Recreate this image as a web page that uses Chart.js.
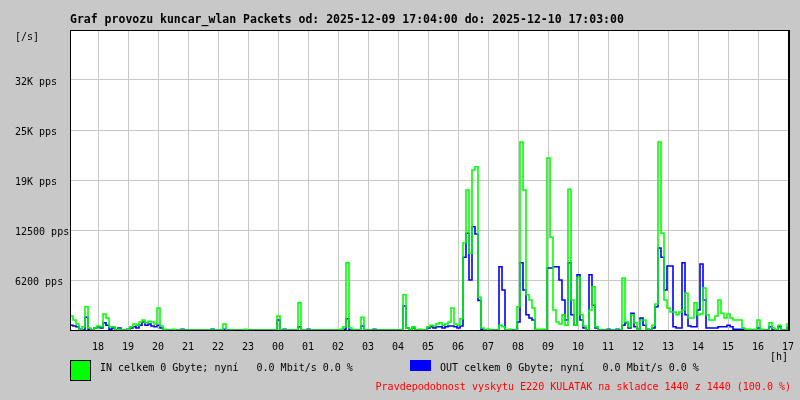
<!DOCTYPE html>
<html>
<head>
<meta charset="utf-8">
<script src="https://cdn.jsdelivr.net/npm/chart.js@4/dist/chart.umd.min.js"></script>
<style>
  html, body { margin: 0; padding: 0; background: #c8c8c8; }
  #wrap { position: relative; width: 800px; height: 400px; overflow: hidden; background: #c8c8c8; }
  canvas { position: absolute; left: 0; top: 0; }
  .t { position: absolute; white-space: pre; font-family: "DejaVu Sans Mono", "Liberation Mono", monospace; font-size: 10px; line-height: 10px; color: #000; }
  #title { font-weight: bold; font-size: 11.5px; line-height: 12px; left: 70px; top: 13px; }
  .box { position: absolute; }
</style>
</head>
<body>
<div id="wrap">
  <canvas id="c" width="800" height="400"></canvas>
  <div id="title" class="t">Graf provozu kuncar_wlan Packets od: 2025-12-09 17:04:00 do: 2025-12-10 17:03:00</div>
  <div class="t" style="left:15px; top:32px;">[/s]</div>
  <div class="t" style="left:770px; top:352px;">[h]</div>
  <div class="box" style="left:70px; top:360px; width:19px; height:19px; background:#00ff00; border:1px solid #000;"></div>
  <div class="t" style="left:100px; top:363px;">IN celkem 0 Gbyte; nyní   0.0 Mbit/s 0.0 %</div>
  <div class="box" style="left:410px; top:360px; width:21px; height:11px; background:#0000ff;"></div>
  <div class="t" style="left:440px; top:363px;">OUT celkem 0 Gbyte; nyní   0.0 Mbit/s 0.0 %</div>
  <div class="t" style="right:9px; top:382px; color:#ff0000;">Pravdepodobnost vyskytu E220 KULATAK na skladce 1440 z 1440 (100.0 %)</div>
</div>
<script>
// Time axis: minutes since 2025-12-09 17:04, one sample every 6 minutes
const sampleMinutes = 6;
const totalMinutes = 1440;
const firstHourOffset = 56; // 18:00 is 56 minutes after 17:04
const hourLabels = ['18','19','20','21','22','23','00','01','02','03','04','05','06','07','08','09','10','11','12','13','14','15','16','17'];
const yTickValues = [0, 6250, 12500, 18750, 25000, 31250, 37500];
const yTickLabels = ['', '6200 pps', '12500 pps', '19K pps', '25K pps', '32K pps', ''];

// IN packets/s (green)
const inValues = [
  1750,1250,750,0,400,2900,250,0,250,500,
  400,2000,1500,400,400,0,100,0,0,100,
  400,750,600,1000,1250,900,1100,1000,750,2750,
  500,100,0,0,100,0,0,0,0,0,
  0,0,0,0,0,0,0,0,0,0,
  0,750,0,0,0,0,0,0,100,0,
  0,0,0,0,0,0,0,0,0,1750,
  0,0,0,0,0,0,3400,0,0,0,
  0,0,0,0,0,0,0,0,0,0,
  100,400,8400,250,0,0,0,1600,0,0,
  0,0,0,0,0,0,0,0,0,0,
  0,4400,250,100,400,0,100,0,0,400,
  600,500,750,900,600,750,1000,2750,750,600,
  1400,10900,17500,9600,20000,20400,4100,250,0,100,
  0,0,0,600,400,0,100,0,0,2900,
  23500,17500,4400,3750,2750,100,100,100,0,21500,
  11600,2500,1000,750,1900,600,17600,3750,600,6600,
  1900,500,0,2500,5400,400,0,0,0,0,
  0,0,0,0,6500,1000,400,1900,900,100,
  1250,1250,100,0,600,3250,23500,12100,3750,2750,
  2250,2250,1900,2250,2500,4600,1500,1500,3400,1900,
  2000,5250,1900,1250,1250,1750,3750,2100,1500,2000,
  1500,1250,1250,1250,250,100,100,0,100,1250,
  100,0,0,900,250,0,600,0,0,750
];

// OUT packets/s (blue)
const outValues = [
  600,500,400,100,0,1600,100,0,250,400,
  250,900,600,100,250,0,250,0,0,100,
  250,400,250,600,1000,600,750,500,400,600,
  250,0,0,0,0,0,0,100,0,0,
  0,0,0,0,0,0,0,100,0,0,
  0,100,0,0,0,0,0,0,0,0,
  0,0,0,0,0,0,0,0,0,1250,
  0,100,0,0,0,0,400,0,0,100,
  0,0,0,0,0,0,0,0,0,0,
  0,100,1400,0,0,0,0,500,0,0,
  0,100,0,0,0,0,0,0,0,0,
  0,3000,250,0,250,0,0,0,0,250,
  400,250,400,400,250,400,500,500,400,250,
  500,9100,12100,6250,12900,12000,3700,100,0,0,
  0,0,0,7900,5000,0,0,0,0,1000,
  8400,5000,1900,1500,1250,0,0,0,0,7750,
  7750,7900,7900,6250,3750,1250,8400,1900,600,6900,
  1250,250,0,6900,3100,250,0,0,0,100,
  0,0,100,0,600,900,250,2100,400,100,
  1500,600,100,0,250,2900,10250,9100,5000,8000,
  8000,400,250,250,8400,1900,500,400,400,2500,
  8250,3750,250,250,250,250,400,400,400,600,
  400,100,100,100,100,0,0,0,0,250,
  0,0,0,400,0,0,400,0,0,250
];

function toPoints(values) {
  const pts = values.map((v, i) => ({ x: i * sampleMinutes, y: v }));
  pts.push({ x: totalMinutes, y: values[values.length - 1] });
  return pts;
}

const frameAndBg = {
  id: 'frameAndBg',
  beforeDraw(chart) {
    const { ctx, chartArea: a } = chart;
    ctx.save();
    ctx.fillStyle = '#ffffff';
    ctx.fillRect(a.left, a.top, a.right - a.left, a.bottom - a.top);
    ctx.restore();
  },
  afterDatasetsDraw(chart) {
    const { ctx, chartArea: a } = chart;
    ctx.save();
    ctx.strokeStyle = '#000000';
    ctx.lineWidth = 1;
    ctx.strokeRect(a.left + 0.5, a.top + 0.5, a.right - a.left - 1, a.bottom - a.top);
    ctx.beginPath();
    ctx.moveTo(a.left, a.bottom + 0.5);
    ctx.lineTo(a.right, a.bottom + 0.5);
    ctx.moveTo(a.right - 1.5, a.top);
    ctx.lineTo(a.right - 1.5, a.bottom);
    ctx.stroke();
    ctx.restore();
  }
};

const monoFont = { family: '"DejaVu Sans Mono", "Liberation Mono", monospace', size: 10 };

new Chart(document.getElementById('c'), {
  type: 'line',
  data: {
    datasets: [
      { label: 'IN', data: toPoints(inValues), borderColor: '#00ff00', borderWidth: 1.6, pointRadius: 0, stepped: true, fill: false },
      { label: 'OUT', data: toPoints(outValues), borderColor: '#0000ff', borderWidth: 1.6, pointRadius: 0, stepped: true, fill: false }
    ]
  },
  options: {
    responsive: false,
    animation: false,
    devicePixelRatio: 1,
    layout: { padding: { left: 15, top: 30, right: 10, bottom: 40 } },
    plugins: { legend: { display: false }, tooltip: { enabled: false }, title: { display: false } },
    scales: {
      x: {
        type: 'linear',
        min: 0,
        max: totalMinutes,
        afterBuildTicks(scale) { scale.ticks = hourLabels.map((_, k) => ({ value: firstHourOffset + 60 * k })); },
        afterFit(scale) { scale.height = 30; scale.paddingLeft = 0; scale.paddingRight = 0; },
        ticks: { autoSkip: false, maxRotation: 0, padding: 11, color: '#000', font: monoFont, callback: (v, i) => hourLabels[i] },
        grid: { color: '#c8c8c8', lineWidth: 1, drawTicks: false },
        border: { display: false }
      },
      y: {
        min: 0,
        max: 37500,
        afterBuildTicks(scale) { scale.ticks = yTickValues.map(v => ({ value: v })); },
        afterFit(scale) { scale.width = 55; scale.paddingTop = 0; scale.paddingBottom = 0; },
        ticks: { crossAlign: 'far', labelOffset: 2, color: '#000', font: monoFont, callback: (v, i) => yTickLabels[i] },
        grid: { color: '#c8c8c8', lineWidth: 1, drawTicks: false },
        border: { display: false }
      }
    }
  },
  plugins: [frameAndBg]
});
</script>
</body>
</html>
